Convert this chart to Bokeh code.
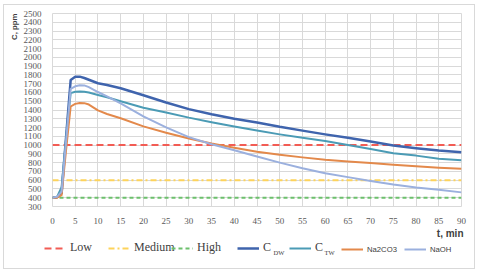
from bokeh.plotting import figure
from bokeh.layouts import column
from bokeh.models import Range1d, FixedTicker, Legend, LegendItem, Label, Title
from bokeh.embed import file_html
from bokeh.resources import INLINE

# ---- data ----
t = [0, 1, 2, 3, 4, 5, 6, 7, 8, 10, 12, 15, 20, 25, 30, 35, 40, 45, 50, 55, 60, 65, 70, 75, 80, 85, 90]
c_dw = [400, 405, 450, 1100, 1742, 1778, 1780, 1765, 1745, 1705, 1685, 1648, 1568, 1485, 1410, 1352, 1300,
        1258, 1208, 1165, 1122, 1083, 1040, 995, 965, 938, 918]
c_tw = [400, 410, 520, 1080, 1592, 1608, 1612, 1608, 1600, 1572, 1545, 1500, 1425, 1372, 1313, 1261, 1213,
        1166, 1122, 1083, 1046, 1002, 955, 908, 880, 845, 826]
na2co3 = [400, 400, 430, 950, 1440, 1470, 1480, 1478, 1462, 1395, 1355, 1306, 1213, 1140, 1076, 1017, 970,
          925, 891, 860, 833, 813, 795, 776, 758, 743, 731]
naoh = [400, 410, 470, 1050, 1640, 1670, 1683, 1680, 1660, 1605, 1555, 1475, 1328, 1202, 1091, 1009, 942,
        869, 800, 735, 680, 635, 590, 550, 517, 491, 461]

limit_t = [0, 90]
low = [1000, 1000]
medium = [600, 600]
high = [400, 400]

x_ticks = list(range(0, 91, 5))
y_ticks = list(range(300, 2501, 100))

SERIF = "Liberation Serif"
SANS = "Liberation Sans"
GRID = "#d9d9d9"
TXT = "#404040"

styles = {
    "Low": dict(line_color="#f25c54", line_width=2, line_dash="7 4"),
    "Medium": dict(line_color="#fdd35b", line_width=2, line_dash="6 3 2 3"),
    "High": dict(line_color="#6cc06c", line_width=2, line_dash="4 3"),
    "C_DW": dict(line_color="#3f64ad", line_width=2.5, line_join="round"),
    "C_TW": dict(line_color="#4b9bb5", line_width=2, line_join="round"),
    "Na2CO3": dict(line_color="#e3894b", line_width=2, line_join="round"),
    "NaOH": dict(line_color="#9bb0de", line_width=2, line_join="round"),
}

W = 470
p = figure(width=W, height=221, output_backend="svg", toolbar_location=None,
           x_range=Range1d(0, 90), y_range=Range1d(300, 2500),
           min_border_left=48, min_border_right=13, min_border_top=8, min_border_bottom=15)
p.frame_align = False
p.background_fill_color = "white"
p.border_fill_color = "white"
p.outline_line_color = GRID

for ax in (p.xaxis[0], p.yaxis[0]):
    ax.major_label_text_font = SERIF
    ax.major_label_text_font_size = "9px"
    ax.major_label_text_color = "#595959"
    ax.major_tick_line_color = None
    ax.minor_tick_line_color = None
    ax.axis_line_color = None
    ax.major_label_standoff = 5
p.xaxis.ticker = FixedTicker(ticks=x_ticks)
p.yaxis.ticker = FixedTicker(ticks=y_ticks)
p.xgrid.ticker = FixedTicker(ticks=x_ticks)
p.ygrid.ticker = FixedTicker(ticks=y_ticks)
p.grid.grid_line_color = GRID
p.grid.grid_line_width = 1

p.line(limit_t, low, **styles["Low"])
p.line(limit_t, medium, **styles["Medium"])
p.line(limit_t, high, **styles["High"])
p.line(t, c_dw, **styles["C_DW"])
p.line(t, c_tw, **styles["C_TW"])
p.line(t, na2co3, **styles["Na2CO3"])
p.line(t, naoh, **styles["NaOH"])

p.add_layout(Title(text="C, ppm", align="right", text_font=SANS, text_font_size="7.8px",
                   text_font_style="bold", text_color=TXT, standoff=3), "left")

# ---- legend strip (below the plot) ----
LH = 42
lg = figure(width=W, height=LH, output_backend="svg", toolbar_location=None,
            x_range=Range1d(0, 1), y_range=Range1d(0, 1),
            x_axis_location=None, y_axis_location=None,
            min_border_left=0, min_border_right=0, min_border_top=0, min_border_bottom=0)
lg.frame_align = False
lg.grid.visible = False
lg.outline_line_color = None
lg.background_fill_color = "white"
lg.border_fill_color = "white"

lg.add_layout(Label(x=459, y=35, x_units="screen", y_units="screen", text="t, min",
                    text_font=SANS, text_font_size="10px", text_font_style="bold", text_color=TXT,
                    text_align="right", text_baseline="middle"))

nan = float("nan")
LEG_Y = 13
entries = [
    ("Low", "Low", 40, SERIF, "12px"),
    ("Medium", "Medium", 104, SERIF, "12px"),
    ("High", "High", 167, SERIF, "12px"),
    ("C", "C_DW", 233, SERIF, "12px"),
    ("C", "C_TW", 285, SERIF, "12px"),
    ("Na2CO3", "Na2CO3", 337, SANS, "7.7px"),
    ("NaOH", "NaOH", 400, SANS, "7.7px"),
]
for label, key, lx, font, size in entries:
    r = lg.line([nan], [nan], **styles[key])
    leg = Legend(items=[LegendItem(label=label, renderers=[r])], location=(lx, LEG_Y),
                 orientation="horizontal", glyph_width=22, glyph_height=12, label_height=12,
                 label_standoff=4, padding=0, margin=0, spacing=0,
                 border_line_color=None, background_fill_alpha=0,
                 label_text_font=font, label_text_font_size=size, label_text_color=TXT)
    lg.add_layout(leg)

for sub, sx in (("DW", 269), ("TW", 320)):
    lg.add_layout(Label(x=sx, y=16, x_units="screen", y_units="screen", text=sub,
                        text_font=SERIF, text_font_size="6.5px", text_color=TXT,
                        text_baseline="middle", text_align="left"))

layout = column(p, lg, spacing=0, margin=(4, 0, 0, 3),
                styles={"border": "1px solid #d9d9d9"})

open("out.html", "w").write(file_html(layout, INLINE))
